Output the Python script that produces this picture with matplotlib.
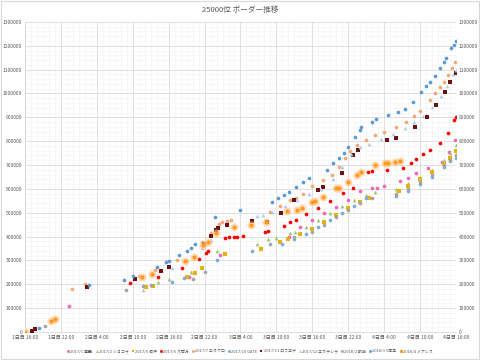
import matplotlib
matplotlib.use("Agg")
import matplotlib.pyplot as plt
from matplotlib.patches import Rectangle
from matplotlib.ticker import MultipleLocator

plt.rcParams['font.family'] = ['Noto Sans CJK JP', 'DejaVu Sans']

title = "25000位 ボーダー推移"
xtick_labels = ["1日目 16:00", "1日目 22:00", "2日目 4:00", "2日目 10:00", "2日目 16:00",
                "2日目 22:00", "3日目 4:00", "3日目 10:00", "3日目 16:00", "3日目 22:00",
                "4日目 4:00", "4日目 10:00", "4日目 16:00"]

# hours since start, border values
mago_h = [7.4, 27.4, 32.6, 44.1, 46.0, 48.0, 50.0, 52.0, 54.0, 56.0, 57.9, 58.8, 60.0, 62.6, 64.0, 65.4, 67.3, 69.6, 70.9, 71.8]
mago_v = [109000, 232000, 323000, 397000, 440000, 470000, 500000, 525000, 555000, 590000, 602000, 605000, 612000, 631000, 644000, 665000, 686000, 714000, 756000, 805000]

choco_h = [22.2, 24.0, 27.8, 32.0, 38.7, 40.6, 42.0, 44.2, 45.1, 47.0, 49.0, 51.0, 53.0, 55.0, 57.0, 58.5, 62.0, 64.0, 66.0, 68.0, 70.0, 71.0, 72.0]
choco_v = [209000, 220000, 252000, 341000, 369000, 389000, 393000, 414000, 420000, 440000, 470000, 500000, 530000, 555000, 575000, 585000, 600000, 625000, 650000, 680000, 720000, 750000, 785000]

uta_h = [20.3, 21.4, 27.0, 28.4, 29.5, 33.4, 39.5, 42.6, 44.0, 46.0, 48.0, 50.0, 52.0, 54.0, 56.0, 57.5, 62.5, 64.0, 66.0, 68.0, 70.0, 71.0, 72.0]
uta_v = [189000, 194000, 230000, 248000, 270000, 327000, 347000, 379000, 390000, 410000, 430000, 460000, 490000, 520000, 545000, 560000, 590000, 610000, 640000, 670000, 705000, 730000, 760000]

yao_h = [17.6, 22.2, 26.2, 29.1, 30.2, 30.6, 33.4, 34.1, 34.9, 35.5, 36.4, 40.1, 40.6, 43.2, 44.2, 45.2, 47.0, 49.0, 51.0, 53.1, 54.8, 57.3, 58.0, 60.4, 63.2, 64.5, 65.4, 66.5, 67.6, 69.3, 70.7, 71.6, 72.0]
yao_v = [204000, 232000, 267000, 306000, 332000, 341000, 393000, 397000, 400000, 400000, 404000, 418000, 425000, 445000, 459000, 470000, 495000, 518000, 549000, 581000, 602000, 672000, 676000, 679000, 686000, 710000, 724000, 745000, 763000, 791000, 833000, 889000, 901000]

eta_h = [7.8, 10.0, 19.0, 21.8, 25.4, 29.5, 31.0, 32.4, 32.9, 33.8, 34.4, 40.9, 42.6, 44.2, 45.2, 46.5, 48.0, 49.8, 51.3, 52.5, 53.5, 54.3, 55.5, 57.0, 58.4, 60.0, 62.0, 63.7, 65.0, 66.0, 67.6, 68.5, 69.3, 70.0, 70.7, 71.3, 71.8]
eta_v = [179000, 200000, 235000, 260000, 302000, 379000, 414000, 453000, 459000, 467000, 470000, 504000, 528000, 553000, 560000, 580000, 610000, 637000, 658000, 690000, 730000, 760000, 785000, 805000, 826000, 840000, 861000, 882000, 905000, 925000, 973000, 1000000, 1028000, 1050000, 1078000, 1105000, 1133000]

gate_h = [24.5, 26.5, 32.0, 38.0, 43.0, 45.0, 47.0, 49.0, 51.0, 53.0, 55.0, 57.0, 62.0, 64.0, 66.0, 68.0, 70.0, 71.0, 72.0]
gate_v = [210000, 225000, 300000, 341000, 370000, 390000, 410000, 440000, 470000, 500000, 530000, 560000, 570000, 590000, 620000, 650000, 690000, 715000, 730000]

los_h = [1.2, 1.7, 10.3, 18.4, 22.7, 24.0, 29.9, 31.0, 31.9, 32.3, 33.8, 38.0, 40.5, 42.7, 45.0, 49.0, 49.8, 52.9, 54.8, 55.6, 60.4, 62.0, 65.1, 67.1, 68.7, 70.1, 71.0, 72.0]
los_v = [5000, 12000, 190000, 221000, 257000, 271000, 369000, 403000, 428000, 435000, 449000, 467000, 459000, 500000, 553000, 595000, 607000, 665000, 742000, 763000, 805000, 812000, 861000, 903000, 952000, 1008000, 1050000, 1085000]

este_h = [19.8, 24.5, 27.0, 29.5, 31.0, 38.7, 39.8, 41.2, 43.5, 45.5, 47.5, 49.5, 51.5, 53.0, 54.5, 56.0, 57.5, 59.5, 61.5, 63.5, 65.0, 66.5, 68.0, 69.5, 70.5, 71.5, 72.0]
este_v = [177000, 270000, 300000, 350000, 385000, 486000, 492000, 505000, 530000, 555000, 580000, 600000, 640000, 690000, 745000, 775000, 790000, 810000, 830000, 855000, 880000, 905000, 945000, 990000, 1030000, 1080000, 1100000]

gaisen_h = [3.3, 16.9, 19.8, 21.0, 28.0, 30.0, 40.9, 45.0, 48.0, 50.0, 52.0, 54.0, 56.0, 58.0, 62.0, 64.0, 66.0, 68.0, 70.0, 71.0, 72.0]
gaisen_v = [26000, 176000, 191000, 195000, 220000, 250000, 369000, 400000, 420000, 450000, 480000, 510000, 540000, 560000, 580000, 600000, 630000, 660000, 700000, 720000, 740000]

anniv_h = [2.3, 10.7, 16.6, 18.1, 22.0, 23.5, 24.0, 25.7, 27.0, 27.7, 28.4, 31.7, 36.0, 41.2, 42.2, 43.3, 44.1, 45.2, 46.5, 47.5, 50.5, 51.5, 52.5, 53.3, 54.0, 55.1, 56.0, 56.2, 57.9, 58.7, 60.7, 62.3, 63.4, 64.8, 66.2, 67.0, 67.6, 68.5, 69.3, 70.0, 70.4, 71.2, 71.6, 72.0]
anniv_v = [17000, 197000, 218000, 233000, 271000, 293000, 298000, 323000, 340000, 352000, 369000, 480000, 513000, 546000, 561000, 574000, 585000, 606000, 628000, 645000, 680000, 707000, 728000, 749000, 777000, 819000, 847000, 861000, 879000, 892000, 911000, 921000, 934000, 965000, 1008000, 1030000, 1050000, 1075000, 1105000, 1130000, 1148000, 1190000, 1205000, 1222000]

mear_h = [0.0, 4.3, 5.0, 19.6, 21.3, 26.7, 28.2, 29.7, 30.6, 31.9, 35.0, 37.8, 40.3, 43.7, 45.4, 46.2, 47.9, 48.5, 49.8, 52.0, 52.5, 54.0, 55.4, 56.2, 58.4, 60.1, 60.6, 61.8, 62.6]
mear_v = [0, 46000, 56000, 229000, 242000, 299000, 316000, 364000, 379000, 414000, 439000, 449000, 459000, 507000, 511000, 520000, 546000, 550000, 567000, 602000, 605000, 630000, 658000, 672000, 700000, 707000, 707000, 714000, 717000]

fig = plt.figure(figsize=(4.8, 3.6), dpi=100)
fig.patch.set_facecolor('white')
ax = fig.add_axes([0.052, 0.078, 0.898, 0.861])

ax.set_xlim(0, 72)
ax.set_ylim(0, 1300000)
ax.xaxis.set_major_locator(MultipleLocator(6))
ax.xaxis.set_minor_locator(MultipleLocator(1))
ax.yaxis.set_major_locator(MultipleLocator(100000))
ax.yaxis.set_minor_locator(MultipleLocator(20000))
ax.grid(which='major', color='#D9D9D9', linewidth=0.6)
ax.grid(which='minor', color='#F2F2F2', linewidth=0.4)
ax.set_axisbelow(True)
ax.set_xticks(range(0, 73, 6))
ax.set_xticklabels(xtick_labels)
ax.set_yticks(range(0, 1300001, 100000))
ax.set_yticklabels([str(v) for v in range(0, 1300001, 100000)])
ax.tick_params(which='both', length=0, labelsize=3.6, colors='#595959', pad=2,
               labelright=True)
for s in ['top', 'right']:
    ax.spines[s].set_visible(False)
for s in ['left', 'bottom']:
    ax.spines[s].set_color('#D9D9D9')
    ax.spines[s].set_linewidth(0.6)

series = [
    ("2017/1 魔轟", mago_h, mago_v, '#F266B8', 'o', 7),
    ("2017/2 ショコラ", choco_h, choco_v, '#9DC56D', '^', 7),
    ("2017/5 唄汗", uta_h, uta_v, '#E8B00F', 's', 5),
    ("2017/6 八百万", yao_h, yao_v, '#FF0000', 'o', 7),
    ("2017/7 エタクロ", eta_h, eta_v, '#F2A877', 'o', 7),
    ("2017/10 GATE", gate_h, gate_v, '#7BAEE0', 'o', 7),
    ("2017/11 ロスエデ", los_h, los_v, '#6E0F12', 's', 5),
    ("2017/12 エステレラ", este_h, este_v, '#A9CBEB', '^', 7),
    ("2018/2 凱旋", gaisen_h, gaisen_v, '#A5A5A5', 'o', 7),
    ("2018/3 5周年", anniv_h, anniv_v, '#5B9BD5', 'o', 7),
]
handles = []
for name, hx, vy, col, mk, sz in series:
    h = ax.scatter(hx, vy, s=sz, c=col, marker=mk, linewidths=0, label=name, zorder=3)
    handles.append(h)

ax.scatter(mear_h, mear_v, s=34, c='#FFC58A', alpha=0.6, linewidths=0, zorder=3)
hm = ax.scatter(mear_h, mear_v, s=9, c='#FF9A1F', linewidths=0, label="2018/4 メアレス", zorder=4)
handles.append(hm)

fig.text(0.5, 0.972, title, ha='center', va='center', fontsize=5.5, color='#595959')

fig.legend(handles=handles, loc='center', bbox_to_anchor=(0.52, 0.025), ncol=11,
           fontsize=2.9, frameon=False, handletextpad=0.05, columnspacing=0.6,
           handlelength=0.9, markerscale=0.8, labelcolor='#595959', borderaxespad=0,
           borderpad=0)

fig.patches.append(Rectangle((0.002, 0.003), 0.996, 0.994, transform=fig.transFigure,
                             fill=False, edgecolor='#D9D9D9', linewidth=0.8))

fig.savefig('out.png', dpi=100)
